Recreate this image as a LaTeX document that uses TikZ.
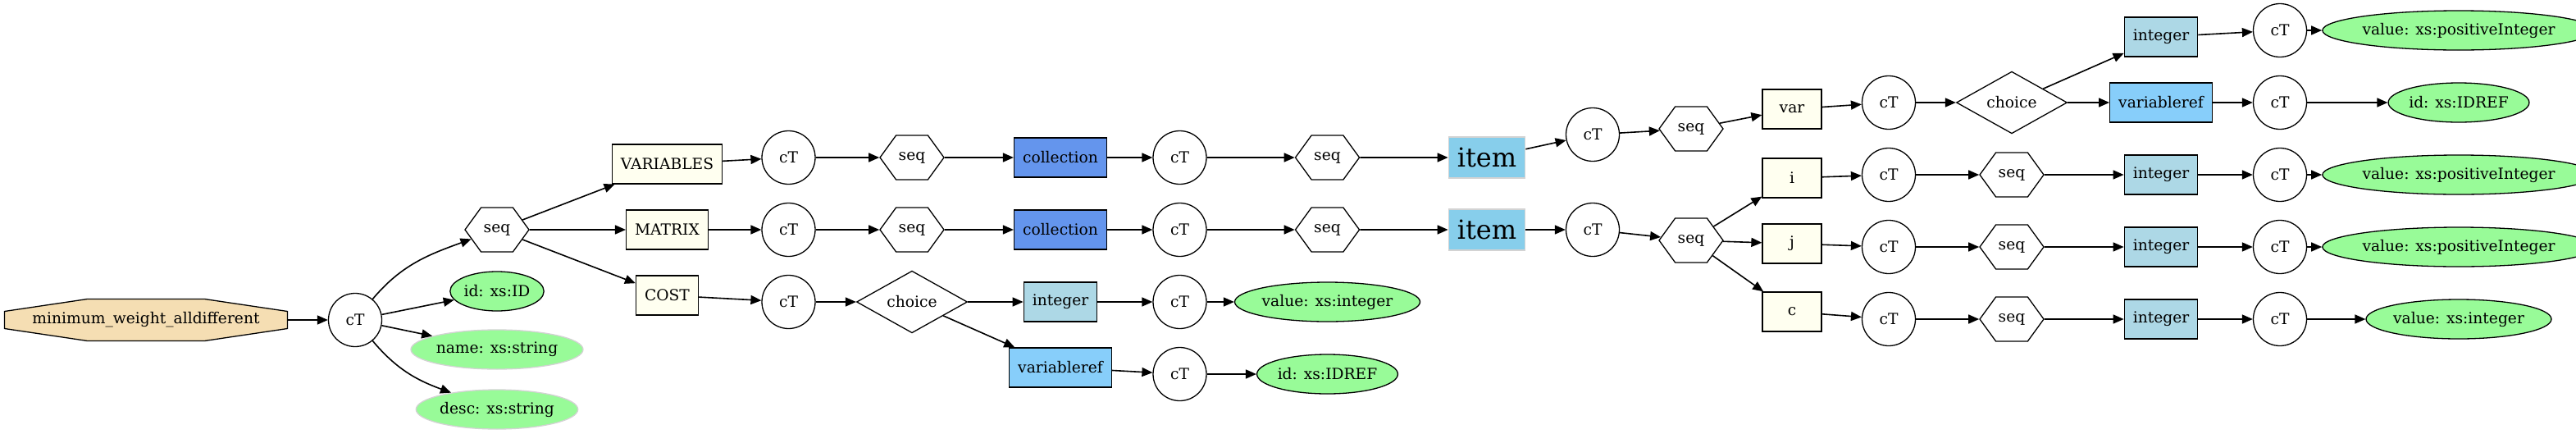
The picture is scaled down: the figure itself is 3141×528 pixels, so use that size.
\documentclass[tikz,border=0pt]{standalone}
\usepackage{fontspec}
\setmainfont{DejaVu Serif}
\usetikzlibrary{shapes.geometric,shapes.symbols,arrows.meta}

\begin{document}
\begin{tikzpicture}[x=1pt,y=-1pt,
	every node/.style={font=\fontsize{18.67}{22}\selectfont,line width=1.3pt},
	ctype/.style={circle,draw,fill=white,minimum size=65pt,inner sep=0pt},
	seqhex/.style={signal,signal to=west and east,signal pointer angle=108,draw,fill=white,minimum width=78pt,minimum height=54pt,inner xsep=2pt,inner ysep=0pt},
	choicebox/.style={diamond,draw,fill=white,minimum width=135pt,minimum height=67pt,inner sep=0pt},
	elem/.style={rectangle,draw,fill=ivory,minimum width=72pt,minimum height=48pt,inner xsep=10.5pt},
	coll/.style={elem,fill=cornflower},
	intbox/.style={elem,fill=lightblue},
	refbox/.style={elem,fill=lightskyblue},
	itembox/.style={elem,draw=lightgrey,fill=skyblue,minimum height=50pt,font=\fontsize{32}{36}\selectfont},
	attr/.style={ellipse,draw,fill=palegreen,minimum height=48pt,inner sep=0pt},
	attrl/.style={attr,draw=lightgrey},
	link/.style={draw,line width=1.6pt,->},
	>={Triangle[length=13pt,width=11pt]}]
	\definecolor{wheat}{RGB}{245,222,179}
	\definecolor{palegreen}{RGB}{152,251,152}
	\definecolor{ivory}{RGB}{255,255,240}
	\definecolor{cornflower}{RGB}{100,149,237}
	\definecolor{lightblue}{RGB}{173,216,230}
	\definecolor{lightskyblue}{RGB}{135,206,250}
	\definecolor{skyblue}{RGB}{135,206,235}
	\definecolor{lightgrey}{RGB}{211,211,211}

	\useasboundingbox (0,0) rectangle (3141,528);

	\draw[line width=1.3pt,fill=wheat] (106.5,364.5) -- (249.5,364.5) -- (350.5,379.5) -- (350.5,400.5) -- (249.5,415.5) -- (106.5,415.5) -- (5.5,400.5) -- (5.5,379.5) -- cycle;
	\node[minimum width=345pt,minimum height=51pt] (root) at (178,390) {minimum\_weight\_alldifferent};
	\node[ctype] (ct0) at (433,390) {cT};
	\node[seqhex] (seq0) at (606,280) {seq};
	\node[attr,minimum width=112pt] (attrid) at (606,355) {id: xs:ID};
	\node[attrl,minimum width=184pt] (attrname) at (606,426) {name: xs:string};
	\node[attrl,minimum width=174pt] (attrdesc) at (606,499) {desc: xs:string};

	\node[elem] (variables) at (813.5,200) {VARIABLES};
	\node[elem] (matrix) at (813.5,280) {MATRIX};
	\node[elem] (cost) at (813.5,360) {COST};

	\node[ctype] (ctva) at (961.5,192) {cT};
	\node[seqhex] (seqva) at (1112,192) {seq};
	\node[coll] (collva) at (1293,192) {collection};
	\node[ctype] (ctvb) at (1438.5,192) {cT};
	\node[seqhex] (seqvb) at (1618.5,192) {seq};
	\node[itembox] (itemva) at (1813,192) {item};

	\node[ctype] (ctma) at (961.5,280) {cT};
	\node[seqhex] (seqma) at (1112,280) {seq};
	\node[coll] (collma) at (1293,280) {collection};
	\node[ctype] (ctmb) at (1438.5,280) {cT};
	\node[seqhex] (seqmb) at (1618.5,280) {seq};
	\node[itembox] (itemma) at (1813,280) {item};

	\node[ctype] (ctca) at (961.5,368) {cT};
	\node[choicebox] (choiceca) at (1112,368) {choice};
	\node[intbox] (intca) at (1293,368) {integer};
	\node[ctype] (ctcb) at (1438.5,368) {cT};
	\node[attr,minimum width=194pt] (valca) at (1618.5,368) {value: xs:integer};
	\node[refbox] (refca) at (1293,448) {variableref};
	\node[ctype] (ctcc) at (1438.5,456) {cT};
	\node[attr,minimum width=151pt] (idrefca) at (1618.5,456) {id: xs:IDREF};

	\node[ctype] (ctiv) at (1942,164) {cT};
	\node[seqhex] (seqiv) at (2062,157) {seq};
	\node[elem] (var) at (2185,133) {var};
	\node[ctype] (ctvar) at (2303,125) {cT};
	\node[choicebox] (choicevar) at (2453,125) {choice};
	\node[intbox] (intvar) at (2635,45) {integer};
	\node[ctype] (ctintvar) at (2780,37) {cT};
	\node[attr,minimum width=273pt] (valvar) at (2998,37) {value: xs:positiveInteger};
	\node[refbox] (refvar) at (2635,125) {variableref};
	\node[ctype] (ctrefvar) at (2780,125) {cT};
	\node[attr,minimum width=151pt] (idrefvar) at (2998,125) {id: xs:IDREF};

	\node[ctype] (ctim) at (1942,280) {cT};
	\node[seqhex] (seqim) at (2062,293) {seq};
	\node[elem] (nodei) at (2185,217) {i};
	\node[ctype] (cti) at (2303,213) {cT};
	\node[seqhex] (seqi) at (2453,213) {seq};
	\node[intbox] (inti) at (2635,213) {integer};
	\node[ctype] (ctinti) at (2780,213) {cT};
	\node[attr,minimum width=273pt] (vali) at (2998,213) {value: xs:positiveInteger};
	\node[elem] (nodej) at (2185,297) {j};
	\node[ctype] (ctj) at (2303,301) {cT};
	\node[seqhex] (seqj) at (2453,301) {seq};
	\node[intbox] (intj) at (2635,301) {integer};
	\node[ctype] (ctintj) at (2780,301) {cT};
	\node[attr,minimum width=273pt] (valj) at (2998,301) {value: xs:positiveInteger};
	\node[elem] (nodec) at (2185,380) {c};
	\node[ctype] (ctc) at (2303,389) {cT};
	\node[seqhex] (seqc) at (2453,389) {seq};
	\node[intbox] (intc) at (2635,389) {integer};
	\node[ctype] (ctintc) at (2780,389) {cT};
	\node[attr,minimum width=194pt] (valc) at (2998,389) {value: xs:integer};

	\draw[link] (root) -- (ct0);
	\draw[link] (ct0) to[out=50,in=200] (seq0);
	\draw[link] (ct0) -- (attrid);
	\draw[link] (ct0) -- (attrname);
	\draw[link] (ct0) to[out=-50,in=160] (attrdesc);
	\draw[link] (seq0) -- (variables);
	\draw[link] (seq0) -- (matrix);
	\draw[link] (seq0) -- (cost);

	\draw[link] (variables) -- (ctva);
	\draw[link] (ctva) -- (seqva);
	\draw[link] (seqva) -- (collva);
	\draw[link] (collva) -- (ctvb);
	\draw[link] (ctvb) -- (seqvb);
	\draw[link] (seqvb) -- (itemva);

	\draw[link] (matrix) -- (ctma);
	\draw[link] (ctma) -- (seqma);
	\draw[link] (seqma) -- (collma);
	\draw[link] (collma) -- (ctmb);
	\draw[link] (ctmb) -- (seqmb);
	\draw[link] (seqmb) -- (itemma);

	\draw[link] (cost) -- (ctca);
	\draw[link] (ctca) -- (choiceca);
	\draw[link] (choiceca) -- (intca);
	\draw[link] (intca) -- (ctcb);
	\draw[link] (ctcb) -- (valca);
	\draw[link] (choiceca) -- (refca);
	\draw[link] (refca) -- (ctcc);
	\draw[link] (ctcc) -- (idrefca);

	\draw[link] (itemva) -- (ctiv);
	\draw[link] (ctiv) -- (seqiv);
	\draw[link] (seqiv) -- (var);
	\draw[link] (var) -- (ctvar);
	\draw[link] (ctvar) -- (choicevar);
	\draw[link] (choicevar) -- (intvar);
	\draw[link] (intvar) -- (ctintvar);
	\draw[link] (ctintvar) -- (valvar);
	\draw[link] (choicevar) -- (refvar);
	\draw[link] (refvar) -- (ctrefvar);
	\draw[link] (ctrefvar) -- (idrefvar);

	\draw[link] (itemma) -- (ctim);
	\draw[link] (ctim) -- (seqim);
	\draw[link] (seqim) -- (nodei);
	\draw[link] (seqim) -- (nodej);
	\draw[link] (seqim) -- (nodec);
	\draw[link] (nodei) -- (cti);
	\draw[link] (cti) -- (seqi);
	\draw[link] (seqi) -- (inti);
	\draw[link] (inti) -- (ctinti);
	\draw[link] (ctinti) -- (vali);
	\draw[link] (nodej) -- (ctj);
	\draw[link] (ctj) -- (seqj);
	\draw[link] (seqj) -- (intj);
	\draw[link] (intj) -- (ctintj);
	\draw[link] (ctintj) -- (valj);
	\draw[link] (nodec) -- (ctc);
	\draw[link] (ctc) -- (seqc);
	\draw[link] (seqc) -- (intc);
	\draw[link] (intc) -- (ctintc);
	\draw[link] (ctintc) -- (valc);
\end{tikzpicture}
\end{document}
